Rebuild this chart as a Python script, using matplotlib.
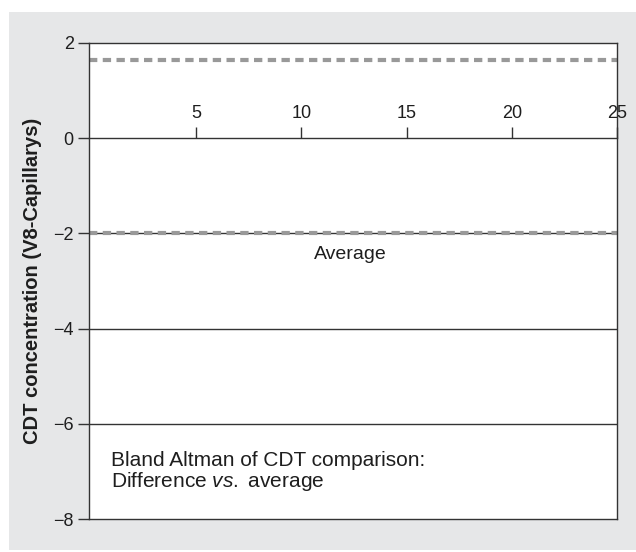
import matplotlib
matplotlib.use("Agg")
import matplotlib.pyplot as plt
from matplotlib.patches import Rectangle

# Data
x_ticks = [5, 10, 15, 20, 25]
y_ticks = [-8, -6, -4, -2, 0, 2]
grid_levels = [-2, -4, -6]
upper_limit = 1.65
mean_diff = -2.0
avg_label = "Average"
ylabel = "CDT concentration (V8-Capillarys)"
note_line1 = "Bland Altman of CDT comparison:"
note_line2 = "Difference $\\mathit{vs.}$ average"

plt.rcParams['font.family'] = ['Liberation Sans', 'DejaVu Sans']
plt.rcParams['mathtext.fontset'] = 'custom'
plt.rcParams['mathtext.rm'] = 'Liberation Sans'
plt.rcParams['mathtext.it'] = 'Liberation Sans:italic'
DPI = 100
fig = plt.figure(figsize=(6.36, 5.52), dpi=DPI, facecolor='white')

# gray background panel
fig.patches.append(Rectangle((9/636, 0.004), 1.0, 0.978 - 0.004,
                             transform=fig.transFigure, facecolor='#e6e7e8',
                             edgecolor='none', zorder=-10))

ax = fig.add_axes([89/636, 1 - 519/552, (617 - 89)/636, (519 - 43)/552])
ax.set_zorder(1)
ax.set_facecolor('white')
ax.set_xlim(-0.1, 25)
ax.set_ylim(-8, 2)

lc = '#333333'
tc = '#1e1e1e'
for s in ['left', 'right', 'bottom']:
    ax.spines[s].set_color(lc)
    ax.spines[s].set_linewidth(1.0)
ax.spines['top'].set_position(('data', 0))
ax.spines['top'].set_color(lc)
ax.spines['top'].set_linewidth(1.0)
ax.axhline(2, color=lc, lw=1.0, clip_on=False, zorder=3)

ax.xaxis.tick_top()
ax.set_xticks(x_ticks)
ax.tick_params(axis='x', direction='out', length=8, width=1.0, color=lc,
               labelsize=13, pad=4, labelcolor=tc)
ax.set_yticks(y_ticks)
ax.tick_params(axis='y', direction='out', length=8, width=1.0, color=lc,
               labelsize=13, pad=3, labelcolor=tc)

for g in grid_levels:
    ax.axhline(g, color=lc, lw=1.0, zorder=1)

dash = (0, (2.0, 1.3))
ax.axhline(upper_limit, color='#999999', lw=3.0, linestyle=dash,
           dash_capstyle='butt', zorder=2)
ax.axhline(mean_diff, color='#999999', lw=3.0, linestyle=dash,
           dash_capstyle='butt', zorder=2)

ax.text(12.33, -2.54, avg_label, ha='center', va='baseline', fontsize=14,
        color=tc)

ax.text(0.95, -6.89, note_line1, ha='left', va='baseline',
        fontsize=15, color=tc)
ax.text(0.95, -7.33, note_line2, ha='left', va='baseline',
        fontsize=15, color=tc)

ax.set_ylabel(ylabel, fontsize=14.5, fontweight='bold', color=tc, labelpad=8)

fig.savefig("out.png", dpi=DPI, facecolor='white')
